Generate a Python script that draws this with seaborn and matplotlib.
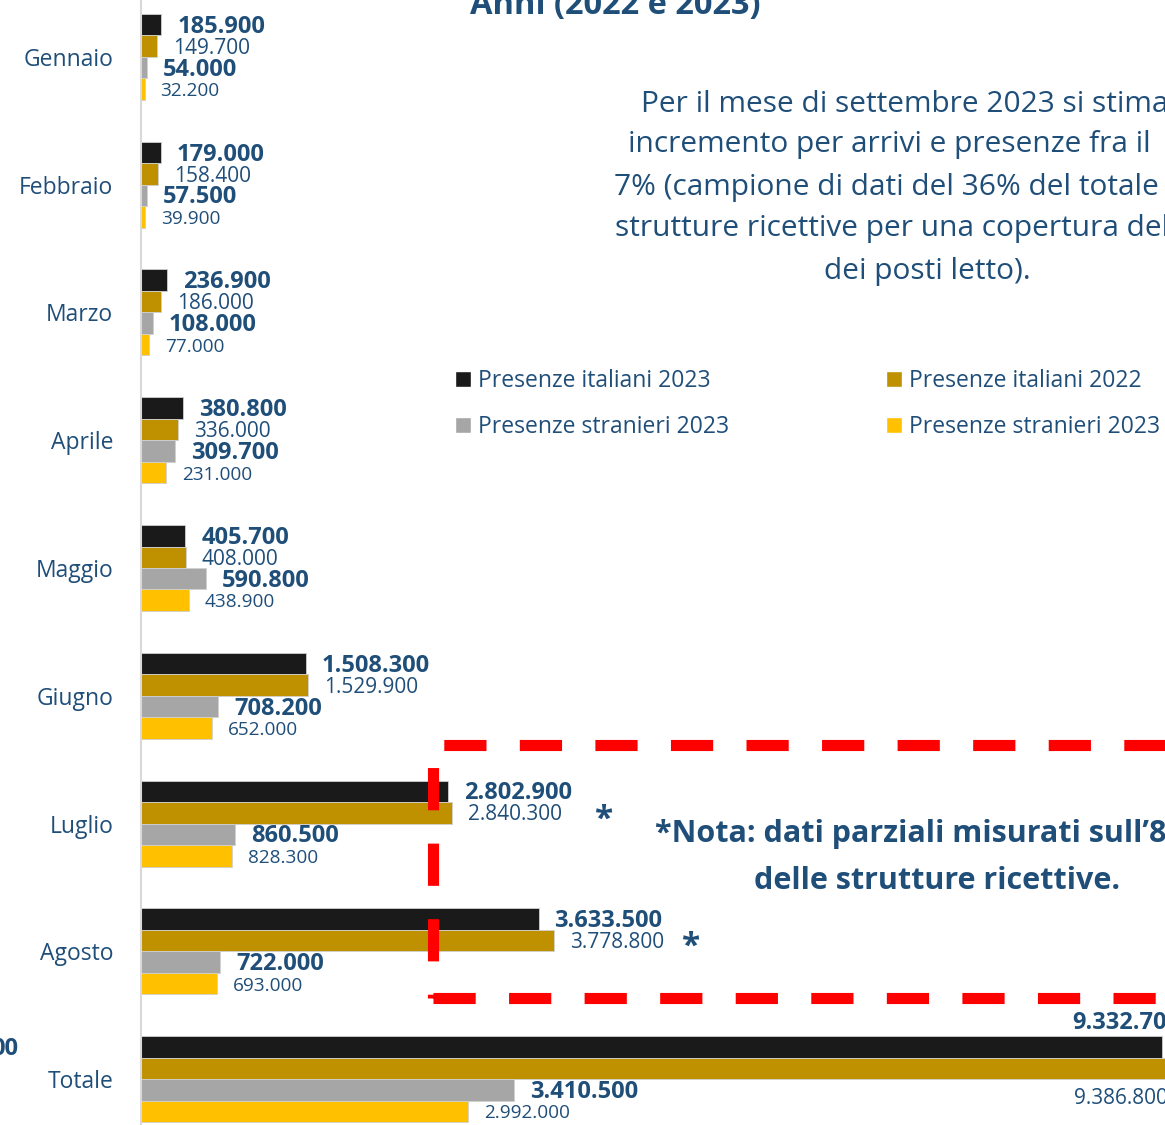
import pandas as pd
import seaborn as sns
import matplotlib.pyplot as plt
from matplotlib.patches import Patch, Rectangle

# Dati (presenze per mese)
mesi = ["Gennaio", "Febbraio", "Marzo", "Aprile", "Maggio", "Giugno", "Luglio", "Agosto", "Totale"]
italiani_2023 = [185900, 179000, 236900, 380800, 405700, 1508300, 2802900, 3633500, 9332700]
italiani_2022 = [149700, 158400, 186000, 336000, 408000, 1529900, 2840300, 3778800, 9386800]
stranieri_2023 = [54000, 57500, 108000, 309700, 590800, 708200, 860500, 722000, 3410500]
stranieri_2022 = [32200, 39900, 77000, 231000, 438900, 652000, 828300, 693000, 2992000]

serie = ["it23", "it22", "st23", "st22"]
etichette = ["Presenze italiani 2023", "Presenze italiani 2022",
             "Presenze stranieri 2023", "Presenze stranieri 2023"]
colori = ["#1A1A1A", "#BF9000", "#A6A6A6", "#FFC000"]

df = pd.DataFrame({
    "mese": mesi * 4,
    "serie": sum([[s] * len(mesi) for s in serie], []),
    "valore": italiani_2023 + italiani_2022 + stranieri_2023 + stranieri_2022,
})

W, H = 1165, 1125
def fx(px):
    return px / W
def fy(py):
    return 1 - py / H

BLU = "#1F4E79"

sns.set_style("white")
plt.rcParams["font.family"] = ["Open Sans", "DejaVu Sans"]

fig = plt.figure(figsize=(W / 100, H / 100), dpi=100)
# asse che va oltre il bordo destro/superiore (immagine ritagliata)
ax = fig.add_axes([fx(141), fy(1143), fx(1165) - fx(141), fy(-7) - fy(1143)])

sns.barplot(data=df, y="mese", x="valore", hue="serie", hue_order=serie,
            palette=colori, saturation=1, orient="h", width=0.673,
            edgecolor="#D0D0D0", linewidth=0.6, legend=False, ax=ax)

ax.set_xlim(0, 9360000)
ax.set_ylim(8.5, -0.5)
ax.set_xlabel("")
ax.set_ylabel("")
ax.set_xticks([])
for s in ["top", "right", "bottom"]:
    ax.spines[s].set_visible(False)
ax.spines["left"].set_color("#D9D9D9")
ax.spines["left"].set_linewidth(1.5)
ax.tick_params(axis="y", length=0, pad=20, labelsize=16.5, labelcolor=BLU)

def fmt(v):
    return f"{v:,}".replace(",", ".")

stili = [("bold", 17), ("normal", 15), ("bold", 17), ("normal", 13.7)]
for i, (cont, (peso, dim)) in enumerate(zip(ax.containers, stili)):
    for j, bar in enumerate(cont):
        v = bar.get_width()
        yc = bar.get_y() + bar.get_height() / 2
        if mesi[j] == "Totale" and i == 0:
            ax.annotate(fmt(int(v)), (v, yc), xytext=(13, 17.5), textcoords="offset points",
                        ha="right", va="center", fontsize=dim, fontweight=peso,
                        color=BLU, annotation_clip=False)
        elif mesi[j] == "Totale" and i == 1:
            ax.annotate(fmt(int(v)), (v, yc), xytext=(0, -21.5), textcoords="offset points",
                        ha="right", va="center", fontsize=dim, fontweight=peso,
                        color=BLU, annotation_clip=False)
        else:
            ax.annotate(fmt(int(v)), (v, yc), xytext=(11.5, -1.5), textcoords="offset points",
                        ha="left", va="center", fontsize=dim, fontweight=peso,
                        color=BLU, annotation_clip=False)

# titolo (tagliato in alto)
fig.text(fx(615), fy(14), "Anni (2022 e 2023)", ha="center", va="baseline",
         fontsize=23.5, fontweight="bold", color=BLU)

# testo esplicativo
righe = [(641, 104, "Per il mese di settembre 2023 si stima"),
         (628, 145, "incremento per arrivi e presenze fra il"),
         (614, 187, "7% (campione di dati del 36% del totale"),
         (615, 229, "strutture ricettive per una copertura del"),
         (824, 271, "dei posti letto).")]
for x, y, t in righe:
    fig.text(fx(x), fy(y), t, ha="left", va="center", fontsize=21.5, color=BLU)

# legenda su due colonne
h = [Patch(facecolor=c) for c in colori]
for k, xl in enumerate([455, 886]):
    fig.legend(h[k::2], etichette[k::2], loc="center left",
               bbox_to_anchor=(fx(xl), fy(404)), frameon=False, fontsize=16.5,
               labelcolor=BLU, handlelength=0.7, handleheight=0.7,
               handletextpad=0.3, labelspacing=1.0, borderpad=0, borderaxespad=0)

# nota e riquadro tratteggiato
fig.text(fx(655), fy(834), "*Nota: dati parziali misurati sull\u201980%", ha="left",
         va="center", fontsize=22, fontweight="bold", color=BLU)
fig.text(fx(937), fy(881), "delle strutture ricettive.", ha="center",
         va="center", fontsize=22, fontweight="bold", color=BLU)
for x, y in [(604, 829), (691, 956)]:
    fig.text(fx(x), fy(y), "*", ha="center", va="baseline", fontsize=24,
             fontweight="bold", color=BLU)

box = Rectangle((fx(433), fy(998)), 0.7, fy(745) - fy(998), transform=fig.transFigure,
                fill=False, edgecolor="#FF0000", linewidth=8,
                linestyle=(0, (3.8, 3.0)), zorder=5)
fig.add_artist(box)

fig.text(fx(18), fy(1049), "00", ha="right", va="center", fontsize=17,
         fontweight="bold", color=BLU)

fig.savefig("out.png", dpi=100)
